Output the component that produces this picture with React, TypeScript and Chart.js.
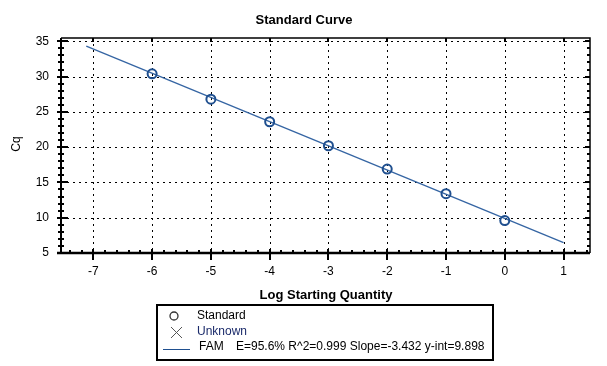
import React, { useEffect, useRef } from "react";
import { Chart, registerables } from "chart.js";

Chart.register(...registerables);

const chartTitle = "Standard Curve";
const xTitle = "Log Starting Quantity";
const yTitle = "Cq";
const standardLog = [-6, -5, -4, -3, -2, -1, 0];
const standardCq = [30.4, 26.8, 23.6, 20.2, 16.9, 13.4, 9.6];
const fitLog = [-7.12, 1];
const fitCq = [34.33, 6.47];
const xTicks = [-7, -6, -5, -4, -3, -2, -1, 0, 1];
const yTicks = [5, 10, 15, 20, 25, 30, 35];
const legendStandard = "Standard";
const legendUnknown = "Unknown";
const legendFam = "FAM";
const legendStats = "E=95.6% R^2=0.999 Slope=-3.432 y-int=9.898";

const FONT = "'Liberation Sans', Arial, sans-serif";
const MARK = "#1f4f8f";
const LINE = "#3565a3";

const decorPlugin = {
  id: "decor",
  beforeDatasetsDraw(chart: any) {
    const { ctx, chartArea: a, scales } = chart;
    const xs = scales.x;
    const ys = scales.y;
    ctx.save();
    ctx.strokeStyle = "#000";
    ctx.lineWidth = 1;
    ctx.setLineDash([2, 4]);
    xTicks.forEach((v) => {
      const px = Math.round(xs.getPixelForValue(v)) + 0.5;
      ctx.beginPath();
      ctx.moveTo(px, a.top);
      ctx.lineTo(px, a.bottom);
      ctx.stroke();
    });
    yTicks.forEach((v) => {
      if (v === yTicks[0]) return;
      const py = Math.round(ys.getPixelForValue(v)) + 0.5;
      ctx.beginPath();
      ctx.moveTo(a.left, py);
      ctx.lineTo(a.right, py);
      ctx.stroke();
    });
    ctx.restore();
  },
  afterDatasetsDraw(chart: any) {
    const { ctx, chartArea: a, scales } = chart;
    const xs = scales.x;
    const ys = scales.y;
    ctx.save();
    ctx.setLineDash([]);
    ctx.strokeStyle = "#000";
    // frame
    ctx.lineWidth = 1.5;
    ctx.beginPath();
    ctx.moveTo(a.left, a.top);
    ctx.lineTo(a.right, a.top);
    ctx.lineTo(a.right, a.bottom);
    ctx.stroke();
    ctx.lineWidth = 2;
    ctx.beginPath();
    ctx.moveTo(a.left, a.top);
    ctx.lineTo(a.left, a.bottom);
    ctx.stroke();
    ctx.lineWidth = 2.5;
    ctx.beginPath();
    ctx.moveTo(a.left - 4, a.bottom);
    ctx.lineTo(a.right, a.bottom);
    ctx.stroke();
    // y ticks
    ctx.lineWidth = 2;
    const yMin = yTicks[0];
    const yMax = yTicks[yTicks.length - 1];
    for (let v = yMin; v <= yMax; v += 1) {
      const py = Math.round(ys.getPixelForValue(v));
      const major = v % 5 === 0;
      ctx.beginPath();
      if (major) {
        ctx.moveTo(a.left - 4, py);
        ctx.lineTo(a.left + 7, py);
      } else {
        ctx.moveTo(a.left - 3, py);
        ctx.lineTo(a.left + 3, py);
      }
      ctx.moveTo(a.right, py);
      ctx.lineTo(a.right - (major ? 5 : 3), py);
      ctx.stroke();
    }
    // x ticks
    const xMin = xTicks[0] - 0.4;
    const xMax = xTicks[xTicks.length - 1] + 0.4;
    for (let i = 0; ; i++) {
      const v = xMin + i * 0.2;
      if (v > xMax + 1e-6) break;
      const px = Math.round(xs.getPixelForValue(v));
      const major = Math.abs(v - Math.round(v)) < 1e-6;
      ctx.beginPath();
      if (major) {
        ctx.moveTo(px, a.bottom - 4);
        ctx.lineTo(px, a.bottom + 7);
        ctx.moveTo(px, a.top);
        ctx.lineTo(px, a.top + 4);
      } else {
        ctx.moveTo(px, a.bottom - 3);
        ctx.lineTo(px, a.bottom);
      }
      ctx.stroke();
    }
    ctx.restore();
  },
  afterDraw(chart: any) {
    const { ctx, chartArea: a } = chart;
    ctx.save();
    ctx.fillStyle = "#000";
    ctx.textAlign = "center";
    ctx.textBaseline = "middle";
    ctx.font = `bold 13px ${FONT}`;
    ctx.fillText(chartTitle, 304, 20);
    ctx.fillText(xTitle, 326, 295);
    ctx.font = `12px ${FONT}`;
    ctx.save();
    ctx.translate(17, 144);
    ctx.rotate(-Math.PI / 2);
    ctx.fillText(yTitle, 0, 0);
    ctx.restore();
    // legend box
    ctx.strokeStyle = "#000";
    ctx.lineWidth = 2;
    ctx.strokeRect(157, 305, 336, 55);
    // circle
    ctx.strokeStyle = "#333";
    ctx.lineWidth = 1.3;
    ctx.beginPath();
    ctx.arc(174, 316, 4, 0, Math.PI * 2);
    ctx.stroke();
    // cross
    ctx.strokeStyle = "#555";
    ctx.lineWidth = 1;
    ctx.beginPath();
    ctx.moveTo(171, 327);
    ctx.lineTo(182, 338);
    ctx.moveTo(182, 327);
    ctx.lineTo(171, 338);
    ctx.stroke();
    // line
    ctx.strokeStyle = MARK;
    ctx.lineWidth = 1;
    ctx.beginPath();
    ctx.moveTo(163, 349.5);
    ctx.lineTo(190, 349.5);
    ctx.stroke();
    ctx.textAlign = "left";
    ctx.fillStyle = "#000";
    ctx.font = `12px ${FONT}`;
    ctx.fillText(legendStandard, 197, 316);
    ctx.fillStyle = "#1a2a6a";
    ctx.fillText(legendUnknown, 197, 332);
    ctx.fillStyle = "#000";
    ctx.fillText(legendFam, 199, 347);
    ctx.fillText(legendStats, 236, 347);
    ctx.restore();
  },
};

export default function App() {
  const ref = useRef<HTMLCanvasElement | null>(null);
  useEffect(() => {
    if (!ref.current) return;
    const chart = new Chart(ref.current, {
      type: "scatter",
      data: {
        datasets: [
          {
            label: "FAM",
            data: fitLog.map((x, i) => ({ x, y: fitCq[i] })),
            showLine: true,
            borderColor: LINE,
            borderWidth: 1.3,
            pointRadius: 0,
            order: 2,
          },
          {
            label: "Standard",
            data: standardLog.map((x, i) => ({ x, y: standardCq[i] })),
            showLine: false,
            pointStyle: "circle",
            pointRadius: 4.5,
            pointBorderWidth: 2,
            pointBorderColor: MARK,
            pointBackgroundColor: "rgba(0,0,0,0)",
            order: 1,
          },
        ],
      },
      options: {
        animation: false,
        responsive: false,
        devicePixelRatio: 1,
        layout: { padding: { top: 38, left: 0, right: 17, bottom: 0 } },
        plugins: {
          legend: { display: false },
          title: { display: false },
          tooltip: { enabled: false },
        },
        scales: {
          x: {
            type: "linear",
            min: -7.55,
            max: 1.45,
            grid: { display: false, drawTicks: false },
            border: { display: false },
            afterBuildTicks: (s: any) => {
              s.ticks = xTicks.map((v) => ({ value: v }));
            },
            afterFit: (s: any) => {
              s.height = 113;
            },
            ticks: {
              color: "#000",
              font: { family: FONT, size: 12 },
              padding: 11,
              maxRotation: 0,
              autoSkip: false,
            },
          },
          y: {
            type: "linear",
            min: 5,
            max: 35.47,
            grid: { display: false, drawTicks: false },
            border: { display: false },
            afterBuildTicks: (s: any) => {
              s.ticks = yTicks.map((v) => ({ value: v }));
            },
            afterFit: (s: any) => {
              s.width = 61;
            },
            ticks: {
              color: "#000",
              font: { family: FONT, size: 12 },
              padding: 12,
              autoSkip: false,
            },
          },
        },
      },
      plugins: [decorPlugin],
    });
    return () => chart.destroy();
  }, []);
  return (
    <div style={{ position: "fixed", left: 0, top: 0, width: 607, height: 366, background: "#fff" }}>
      <canvas ref={ref} width={607} height={366} style={{ width: 607, height: 366, display: "block" }} />
    </div>
  );
}
